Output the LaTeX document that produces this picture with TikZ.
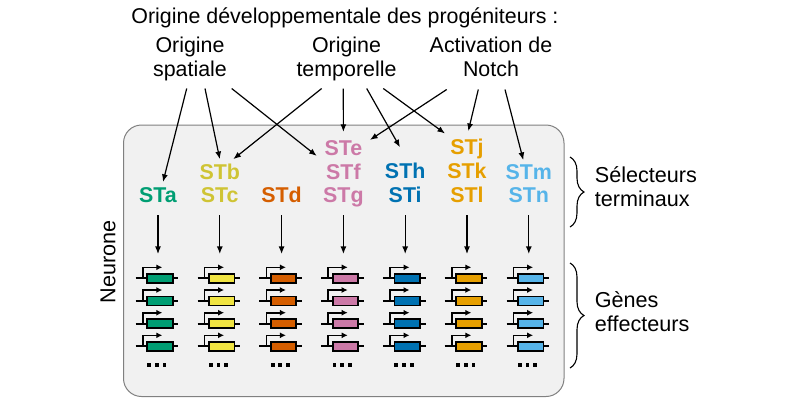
\documentclass[tikz,border=0pt]{standalone}
\usepackage{fontspec}
\setmainfont{Liberation Sans}
\usetikzlibrary{positioning,arrows.meta,decorations.pathreplacing}
\definecolor{stgreen}{RGB}{0,158,115}
\definecolor{styellow}{RGB}{240,228,66}
\definecolor{styellowtxt}{RGB}{207,196,52}
\definecolor{stverm}{RGB}{213,94,0}
\definecolor{stpink}{RGB}{204,121,167}
\definecolor{stblue}{RGB}{0,114,178}
\definecolor{storange}{RGB}{230,159,0}
\definecolor{stsky}{RGB}{86,180,233}
\tikzset{
  linkarrow/.style={-{Latex[length=3.8pt,width=3pt]}, line width=0.6pt},
  origin/.style={align=center, inner sep=0pt, anchor=south, font=\fontsize{10.7}{9.8}\selectfont},
  selector/.style={align=center, inner sep=0pt, anchor=south, font=\fontsize{10.7}{10.5}\selectfont\bfseries},
  sidelabel/.style={align=left, inner sep=0pt, anchor=south west, font=\fontsize{10.8}{10.5}\selectfont},
  sidebrace/.style={decorate, decoration={brace, amplitude=7pt}, line width=0.55pt},
  pics/gene/.style={code={
    \draw[line width=0.85pt] (-22.3,0) -- (20.3,0);
    \draw[line width=0.8pt, -{Latex[length=3pt,width=3pt]}] (-15.3,0) -- (-15.3,-11) -- (4.3,-11);
    \draw[line width=0.85pt, fill=#1] (-10.7,-4.4) rectangle (14.7,4.4);
  }}
}
\begin{document}
\begin{tikzpicture}[x=0.5pt, y=-0.5pt]
  \useasboundingbox (0,0) rectangle (800,398);
  \draw[black!50, fill=gray!11, line width=0.5pt, rounded corners=9pt] (123.5,125) rectangle (564,396.5);

  \node[font=\fontsize{10.7}{12}\selectfont, anchor=base, inner sep=0pt] (title) at (345,23) {Origine développementale des progéniteurs :};
  \node[origin] (spat) at (190,82.5) {Origine\strut\\spatiale\strut};
  \node[origin] (temp) at (346.5,82.5) {Origine\strut\\temporelle\strut};
  \node[origin] (notch) at (491,82.5) {Activation de\strut\\Notch\strut};

  \node[selector, text=stgreen] (sta) at (158,209.3) {STa\strut};
  \node[selector, text=styellowtxt] (stb) at (219.8,209.3) {STb\strut\\STc\strut};
  \node[selector, text=stverm] (std) at (281.6,209.3) {STd\strut};
  \node[selector, text=stpink] (ste) at (343.4,209.3) {STe\strut\\STf\strut\\STg\strut};
  \node[selector, text=stblue] (sth) at (405.2,209.3) {STh\strut\\STi\strut};
  \node[selector, text=storange] (stj) at (467,209.3) {STj\strut\\STk\strut\\STl\strut};
  \node[selector, text=stsky] (stm) at (528.8,209.3) {STm\strut\\STn\strut};

  \draw[linkarrow] ([shift={(-3.3,6)}]spat.south) -- ([shift={(5,-5.3)}]sta.north);
  \draw[linkarrow] ([shift={(15,6)}]spat.south) -- ([shift={(0,-4.3)}]stb.north);
  \draw[linkarrow] ([shift={(41.7,6)}]spat.south) -- ([shift={(-26.7,15.7)}]ste.north);
  \draw[linkarrow] ([shift={(-24.8,6)}]temp.south) -- ([shift={(13.5,-4.3)}]stb.north);
  \draw[linkarrow] ([shift={(-3.2,6)}]temp.south) -- ([shift={(0,-8.3)}]ste.north);
  \draw[linkarrow] ([shift={(20.2,6)}]temp.south) -- ([shift={(-5.2,-15.6)}]sth.north);
  \draw[linkarrow] ([shift={(36.8,6)}]temp.south) -- ([shift={(-22,-5.6)}]stj.north);
  \draw[linkarrow] ([shift={(-44.3,7)}]notch.south) -- ([shift={(26.6,-0.3)}]ste.north);
  \draw[linkarrow] ([shift={(-12.7,7)}]notch.south) -- ([shift={(1.3,-8)}]stj.north);
  \draw[linkarrow] ([shift={(14,7)}]notch.south) -- ([shift={(-5.5,-4)}]stm.north);

  \foreach \cx/\col [count=\i] in {158/stgreen, 219.8/styellow, 281.6/stverm, 343.4/stpink, 405.2/stblue, 467/storange, 528.8/stsky} {
    \coordinate (g\i) at (\cx,254);
    \foreach \ry in {278.3,301,323.7,346.3}
      \pic at (\cx,\ry) {gene=\col};
    \foreach \dx in {-9,-1.3,6.4}
      \fill[shift={(\cx,365)}] (\dx-1.9,-1.9) rectangle ++(3.8,3.8);
  }
  \foreach \s [count=\i] in {sta,stb,std,ste,sth,stj,stm}
    \draw[linkarrow, shorten <=3pt] (\s.south) -- (g\i);

  \draw[sidebrace] (570,157) -- (570,227);
  \draw[sidebrace] (570,263) -- (570,368);
  \node[sidelabel] (sel) at (594.5,213.3) {Sélecteurs\strut\\terminaux\strut};
  \node[sidelabel] (gen) at (594.5,338.3) {Gènes\strut\\effecteurs\strut};
  \node[rotate=90, font=\fontsize{10.8}{12}\selectfont, inner sep=0pt] (neuron) at (108,262) {Neurone};
\end{tikzpicture}
\end{document}
